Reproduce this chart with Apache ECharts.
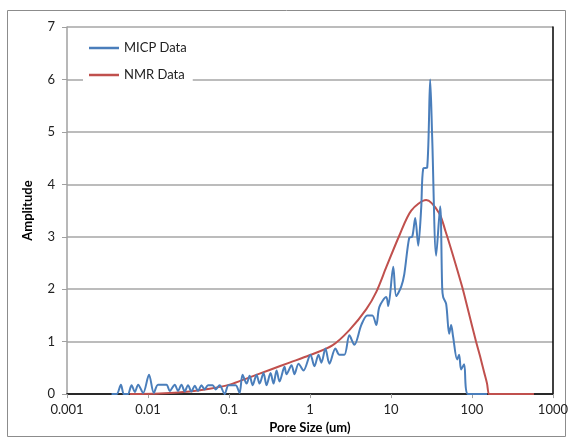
<!DOCTYPE html>
<html><head><meta charset="utf-8">
<script src="https://cdn.jsdelivr.net/npm/echarts@6/dist/echarts.min.js"></script>
<style>html,body{margin:0;padding:0;background:#fff}#c{width:571px;height:439px}</style>
</head><body><div id="c"></div>
<script>
// Pore size (um) and amplitude, MICP
const micpSize = [0.00355,0.0041,0.00463,0.00504,0.00564,0.00627,0.00688,0.00756,0.00871,0.0103,0.0118,0.0133,0.0169,0.0186,0.0214,0.0235,0.0259,0.0284,0.0312,0.0344,0.0378,0.0415,0.0457,0.0501,0.0551,0.0629,0.0685,0.0767,0.0884,0.099,0.121,0.135,0.147,0.165,0.18,0.196,0.219,0.239,0.267,0.291,0.326,0.355,0.387,0.421,0.485,0.513,0.592,0.644,0.722,0.832,1.014,1.136,1.273,1.386,1.552,1.739,2.061,2.309,2.66,3.066,3.533,4.309,5.108,5.888,6.596,7.181,8.757,9.268,10.68,11.63,13.40,14.59,16.82,18.31,19.94,21.71,23.64,25.02,28.03,30.51,32.29,36.18,40.52,42.89,44.12,48.04,52.31,55.36,58.59,65.62,69.45,73.50,80.05,89.66,153.7];
const micpAmp = [0,0,0.18,0,0,0.17,0.04,0.18,0.02,0.37,0.02,0.18,0.18,0.06,0.18,0.06,0.18,0.05,0.17,0.05,0.16,0.06,0.17,0.09,0.17,0.17,0.09,0.17,0,0.17,0.17,0.02,0.37,0.2,0.35,0.17,0.37,0.2,0.4,0.17,0.4,0.2,0.45,0.24,0.52,0.38,0.55,0.38,0.58,0.45,0.75,0.53,0.75,0.6,0.87,0.58,0.87,0.75,0.75,1.12,0.94,1.32,1.5,1.5,1.32,1.66,1.85,1.68,2.43,1.87,2.05,2.28,2.98,3.0,3.36,2.83,3.55,4.3,4.32,6.0,4.9,2.64,3.58,2.04,1.85,1.72,1.15,1.32,1.09,0.66,0.75,0.47,0.57,0,0];
// NMR
const nmrSize = [0.00597,0.014,0.0328,0.0578,0.102,0.18,0.317,0.559,0.986,1.893,3.066,4.966,6.596,8.757,12.66,17.80,27.23,39.39,47.3,56.93,75.60,87.1,100.4,112.5,126.1,141.2,153.7,162.7,177,583];
const nmrAmp  = [0,0.01,0.05,0.1,0.18,0.32,0.46,0.6,0.74,0.93,1.22,1.62,1.95,2.42,3.02,3.5,3.7,3.45,3.1,2.7,2.05,1.68,1.3,1.0,0.72,0.42,0.2,0,0,0];
const xTickValues = [0.001,0.01,0.1,1,10,100,1000];
const xTickLabels = ['0.001','0.01','0.1','1','10','100','1000'];
const yTickLabels = ['0','1','2','3','4','5','6','7'];

const FONT = 'Lato';
const chart = echarts.init(document.getElementById('c'));
const pair = (xs, ys) => xs.map((x, i) => [x, ys[i]]);
chart.setOption({
  animation: false,
  textStyle: {fontFamily: FONT},
  grid: {left: 67, right: 17, top: 27, bottom: 41, containLabel: false},
  graphic: [{type: 'rect', shape: {x: 7.5, y: 10.5, width: 558, height: 426}, style: {fill: 'none', stroke: '#8c8c8c', lineWidth: 1}, z: -10}],
  legend: {
    left: 83, top: 33, orient: 'vertical', itemWidth: 30, itemHeight: 2.5, itemGap: 11,
    icon: 'rect',
    padding: [7, 6, 7, 6], backgroundColor: '#fff',
    textStyle: {fontFamily: FONT, fontSize: 13, lineHeight: 16, color: '#222'},
    data: ['MICP Data', 'NMR Data']
  },
  xAxis: [{
    type: 'log', logBase: 10, min: 0.001, max: 1000,
    name: 'Pore Size (um)', nameLocation: 'middle', nameGap: 22,
    nameTextStyle: {fontFamily: FONT, fontWeight: 'bold', fontSize: 13, color: '#000'},
    axisLine: {lineStyle: {color: '#a0a0a0', width: 1.5}},
    axisTick: {show: true, length: 4, lineStyle: {color: '#a0a0a0'}},
    minorTick: {show: false},
    axisLabel: {fontSize: 13, color: '#222', margin: 9,
      formatter: v => { const i = xTickValues.findIndex(t => Math.abs(Math.log10(t) - Math.log10(v)) < 1e-6); return i >= 0 ? xTickLabels[i] : ''; }},
    splitLine: {show: false}
  }, {
    type: 'log', logBase: 10, min: 0.001, max: 1000, position: 'top',
    axisLine: {show: true, lineStyle: {color: '#000', width: 1.5}},
    axisTick: {show: false}, axisLabel: {show: false}, splitLine: {show: false}
  }],
  yAxis: [{
    type: 'value', min: 0, max: 7, interval: 1,
    name: 'Amplitude', nameLocation: 'middle', nameGap: 33, nameRotate: 90,
    nameTextStyle: {fontFamily: FONT, fontWeight: 'bold', fontSize: 13, color: '#000'},
    axisLine: {show: true, lineStyle: {color: '#a0a0a0', width: 1.5}},
    axisTick: {show: true, length: 5, lineStyle: {color: '#a0a0a0'}},
    axisLabel: {fontSize: 13, color: '#222', margin: 12, formatter: v => yTickLabels[Math.round(v)]},
    splitLine: {show: true, lineStyle: {color: '#a6a6a6', width: 1.5}}
  }, {
    type: 'value', min: 0, max: 7, interval: 1, position: 'right',
    axisLine: {show: true, lineStyle: {color: '#000', width: 1.5}},
    axisTick: {show: false}, axisLabel: {show: false}, splitLine: {show: false}
  }],
  series: [{
    name: 'MICP Data', type: 'line', data: pair(micpSize, micpAmp),
    symbol: 'none', color: '#4a7ebb', lineStyle: {width: 2, color: '#4a7ebb'}, smooth: 0.3, z: 3
  }, {
    name: 'NMR Data', type: 'line', data: pair(nmrSize, nmrAmp),
    symbol: 'none', color: '#c0504d', lineStyle: {width: 2, color: '#c0504d'}, smooth: 0.3, z: 2
  }]
});
</script></body></html>
